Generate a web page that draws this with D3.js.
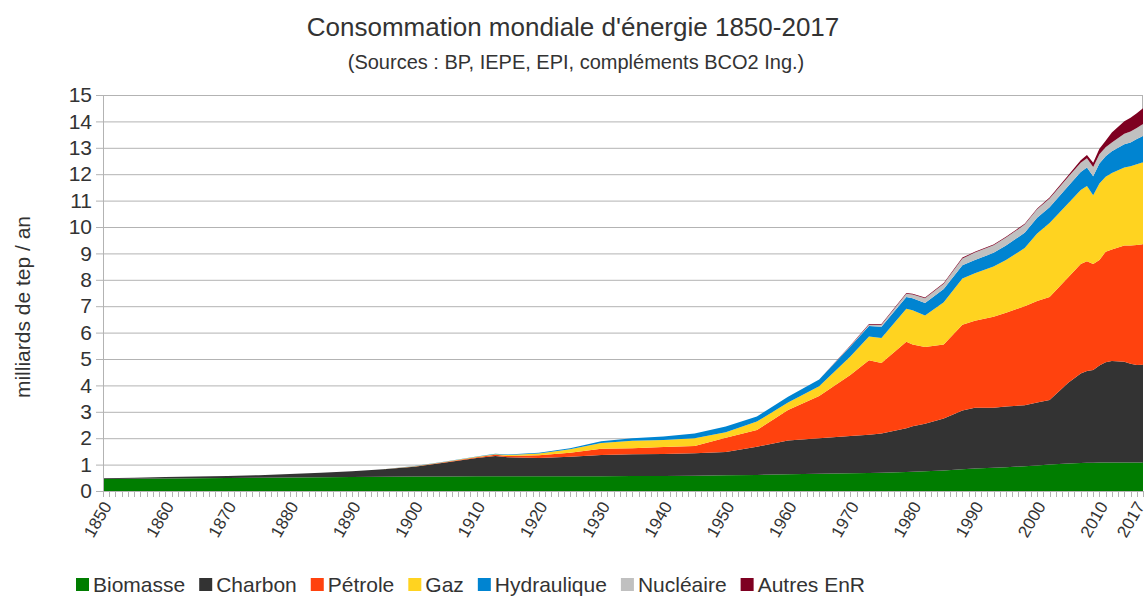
<!doctype html>
<html lang="fr">
<head>
<meta charset="utf-8">
<title>Consommation mondiale d'énergie 1850-2017</title>
<script src="https://d3js.org/d3.v7.min.js"></script>
<style>
  body { margin: 0; background: #fff; }
  svg text { font-family: "Liberation Sans", Arial, sans-serif; fill: #333; }
  .grid line { stroke: #b3b3b3; stroke-width: 1; }
  .frame { fill: none; stroke: #b3b3b3; }
  .xticks line { stroke: #b3b3b3; }
</style>
</head>
<body>
<div id="chart"></div>
<script>
// milliards de tep / an
const years = [1850, 1855, 1860, 1865, 1870, 1875, 1880, 1885, 1890, 1895,
  1900, 1905, 1910, 1913, 1915, 1920, 1925, 1930, 1935, 1940, 1945, 1950, 1955, 1960, 1965,
  1970, 1973, 1975, 1979, 1980, 1982, 1985, 1988, 1990, 1993, 1995, 1998, 2000, 2002, 2005,
  2007, 2008, 2009, 2010, 2011, 2012, 2014, 2015, 2016, 2017];

const biomasse = [.45, .46, .47, .48, .49, .50, .51, .52, .53, .54,
  .55, .55, .56, .56, .56, .56, .56, .56, .57, .57, .58, .60, .61, .63, .65,
  .67, .68, .69, .72, .73, .75, .78, .82, .85, .88, .90, .94, .97, 1.0, 1.04,
  1.06, 1.07, 1.07, 1.08, 1.08, 1.08, 1.08, 1.08, 1.08, 1.08];

const charbon = [.03, .04, .06, .07, .08, .10, .13, .17, .22, .28,
  .37, .53, .69, .77, .72, .69, .74, .80, .82, .83, .85, .88, 1.07, 1.28, 1.35,
  1.41, 1.45, 1.49, 1.66, 1.72, 1.80, 1.97, 2.23, 2.30, 2.27, 2.30, 2.31, 2.38, 2.45, 3.06,
  3.39, 3.48, 3.51, 3.67, 3.80, 3.84, 3.82, 3.74, 3.69, 3.70];

const petrole = [0, 0, 0, 0, 0, 0, 0, 0, 0, 0,
  .01, .02, .03, .04, .05, .10, .15, .24, .23, .27, .27, .54, .63, 1.16, 1.60,
  2.31, 2.82, 2.67, 3.27, 3.10, 2.90, 2.80, 3.25, 3.30, 3.45, 3.55, 3.75, 3.85, 3.90, 4.00,
  4.15, 4.15, 4.02, 4.00, 4.18, 4.23, 4.40, 4.48, 4.55, 4.57];

const gaz = [0, 0, 0, 0, 0, 0, 0, 0, 0, 0,
  .01, .01, .02, .02, .03, .07, .13, .22, .28, .26, .30, .21, .32, .28, .37,
  .70, .90, .95, 1.25, 1.30, 1.20, 1.60, 1.75, 1.80, 1.90, 2.00, 2.20, 2.55, 2.80, 2.80,
  2.80, 2.85, 2.60, 2.90, 2.84, 2.90, 2.95, 3.00, 3.06, 3.10];

const hydraulique = [0, 0, 0, 0, 0, 0, 0, 0, 0, 0,
  .01, .01, .01, .02, .02, .03, .04, .06, .10, .13, .18, .21, .19, .22, .25,
  .38, .40, .42, .45, .45, .47, .50, .50, .50, .52, .55, .58, .60, .60, .65,
  .68, .70, .72, .76, .78, .82, .88, .90, .95, 1.00];

const nucleaire = [0, 0, 0, 0, 0, 0, 0, 0, 0, 0,
  0, 0, 0, 0, 0, 0, 0, 0, 0, 0, 0, 0, 0, 0, 0,
  .02, .05, .08, .12, .14, .18, .20, .26, .28, .29, .30, .31, .32, .33, .35,
  .35, .35, .35, .35, .34, .33, .40, .42, .42, .45];

const autresEnR = [0, 0, 0, 0, 0, 0, 0, 0, 0, 0,
  0, 0, 0, 0, 0, 0, 0, 0, 0, 0, 0, 0, 0, 0, 0,
  .02, .03, .03, .03, .03, .03, .03, .03, .03, .03, .03, .03, .03, .04, .06,
  .10, .13, .16, .20, .25, .38, .48, .52, .56, .60];

const seriesNames = ['Biomasse', 'Charbon', 'Pétrole', 'Gaz', 'Hydraulique', 'Nucléaire', 'Autres EnR'];
const seriesValues = [biomasse, charbon, petrole, gaz, hydraulique, nucleaire, autresEnR];
const colors = ['#007d00', '#333333', '#ff420e', '#ffd320', '#0084d1', '#c0c0c0', '#7e0021'];
const yTicks = d3.range(0, 16);
const xLabels = [1850, 1860, 1870, 1880, 1890, 1900, 1910, 1920, 1930, 1940, 1950,
  1960, 1970, 1980, 1990, 2000, 2010, 2017];

const width = 1148, height = 598;
const margin = {top: 95, right: 5, bottom: 107, left: 103};

const svg = d3.select('#chart').append('svg')
  .attr('width', width)
  .attr('height', height);

const rows = years.map((yr, i) => {
  const row = {year: yr};
  seriesNames.forEach((name, s) => { row[name] = seriesValues[s][i]; });
  return row;
});

const stacked = d3.stack().keys(seriesNames)(rows);

const x = d3.scaleLinear()
  .domain([1850, 2017])
  .range([margin.left, width - margin.right]);

const y = d3.scaleLinear()
  .domain([0, 15])
  .range([height - margin.bottom, margin.top]);

// title
svg.append('text')
  .attr('x', 573).attr('y', 36)
  .attr('text-anchor', 'middle')
  .style('font-size', '26px')
  .text("Consommation mondiale d'énergie 1850-2017");

svg.append('text')
  .attr('x', 576).attr('y', 69)
  .attr('text-anchor', 'middle')
  .style('font-size', '20px')
  .text('(Sources : BP, IEPE, EPI, compléments BCO2 Ing.)');

// grid
svg.append('g')
  .attr('class', 'grid')
  .selectAll('line')
  .data(yTicks)
  .join('line')
  .attr('x1', margin.left).attr('x2', width - margin.right)
  .attr('y1', d => y(d) + 0.5).attr('y2', d => y(d) + 0.5);

svg.append('rect')
  .attr('class', 'frame')
  .attr('x', margin.left + 0.5).attr('y', margin.top + 0.5)
  .attr('width', width - margin.left - margin.right - 1)
  .attr('height', height - margin.top - margin.bottom);

// areas
const area = d3.area()
  .x(d => x(d.data.year))
  .y0(d => y(d[0]))
  .y1(d => y(d[1]));

svg.append('g')
  .selectAll('path')
  .data(stacked)
  .join('path')
  .attr('fill', (d, i) => colors[i])
  .attr('d', area);

// y axis
const yAxis = svg.append('g')
  .attr('transform', `translate(${margin.left},0)`)
  .call(d3.axisLeft(y).tickValues(yTicks).tickSize(7).tickPadding(4).tickFormat(d3.format('d')));
yAxis.select('.domain').attr('stroke', '#b3b3b3');
yAxis.selectAll('.tick line').attr('stroke', '#b3b3b3');
yAxis.selectAll('.tick text')
  .style('font-size', '21px')
  .attr('fill', '#333');

svg.append('text')
  .attr('transform', 'translate(30,307) rotate(-90)')
  .attr('text-anchor', 'middle')
  .style('font-size', '21px')
  .text('milliards de tep / an');

// x ticks every year
svg.append('g')
  .attr('class', 'xticks')
  .selectAll('line')
  .data(d3.range(1850, 2018))
  .join('line')
  .attr('x1', d => Math.round(x(d)) + 0.5).attr('x2', d => Math.round(x(d)) + 0.5)
  .attr('y1', y(0)).attr('y2', y(0) + 6);

svg.append('g')
  .selectAll('text')
  .data(xLabels)
  .join('text')
  .attr('transform', d => `translate(${d === 2017 ? x(d) - 3 : x(d) + 4},${y(0) + 12}) rotate(-60)`)
  .attr('text-anchor', 'end')
  .attr('dy', '0.35em')
  .style('font-size', '17px')
  .text(d => d);

// legend, laid out one item after the other
const legend = svg.append('g')
  .attr('transform', 'translate(76,578)');

let lx = 0;
seriesNames.forEach((name, i) => {
  const item = legend.append('g').attr('transform', `translate(${lx},0)`);
  item.append('rect')
    .attr('width', 13).attr('height', 13)
    .attr('fill', colors[i]);
  const t = item.append('text')
    .attr('x', 17).attr('y', 14)
    .style('font-size', '21px')
    .text(name);
  lx += 17 + t.node().getComputedTextLength() + 14;
});
</script>
</body>
</html>
